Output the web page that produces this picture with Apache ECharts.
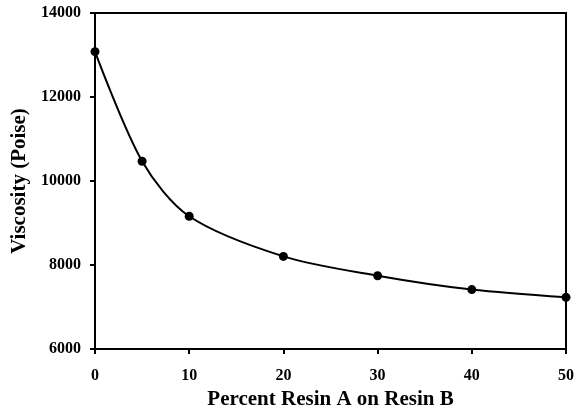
<!DOCTYPE html>
<html>
<head>
<meta charset="utf-8">
<script src="https://cdn.jsdelivr.net/npm/echarts@6/dist/echarts.min.js"></script>
<style>html,body{margin:0;padding:0;background:#fff}#c{width:576px;height:410px}</style>
</head>
<body>
<div id="c"></div>
<script>
var percentA = [0, 5, 10, 20, 30, 40, 50];
var viscosity = [13080, 10470, 9160, 8205, 7745, 7415, 7230];
var xTitle = 'Percent Resin A on Resin B';
var yTitle = 'Viscosity (Poise)';

var chart = echarts.init(document.getElementById('c'), null, {renderer: 'canvas'});
var font = '"Liberation Serif", "Times New Roman", serif';
chart.setOption({
  animation: false,
  backgroundColor: '#fff',
  grid: {left: 95, right: 10, top: 13, bottom: 61, show: true, borderColor: '#000', borderWidth: 2,
         containLabel: false, outerBoundsMode: 'none'},
  xAxis: {
    type: 'value', min: 0, max: 50, interval: 10,
    name: xTitle, nameLocation: 'middle', nameGap: 32,
    nameTextStyle: {fontFamily: font, fontWeight: 'bold', fontSize: 21, color: '#000'},
    axisLine: {lineStyle: {color: '#000', width: 2}},
    axisTick: {show: true, length: 5, lineStyle: {color: '#000', width: 2}},
    axisLabel: {fontFamily: font, fontWeight: 'bold', fontSize: 16, color: '#000', margin: 19,
                formatter: function (v) { return String(v); }},
    splitLine: {show: false}
  },
  yAxis: {
    type: 'value', min: 6000, max: 14000, interval: 2000,
    name: yTitle, nameLocation: 'middle', nameGap: 59,
    nameTextStyle: {fontFamily: font, fontWeight: 'bold', fontSize: 21, color: '#000'},
    axisLine: {show: true, lineStyle: {color: '#000', width: 2}},
    axisTick: {show: true, length: 5, lineStyle: {color: '#000', width: 2}},
    axisLabel: {fontFamily: font, fontWeight: 'bold', fontSize: 16, color: '#000', margin: 14,
                formatter: function (v) { return String(v); }},
    splitLine: {show: false}
  },
  series: [{
    type: 'line',
    data: percentA.map(function (x, i) { return [x, viscosity[i]]; }),
    smooth: 0.3,
    symbol: 'circle', symbolSize: 9,
    itemStyle: {color: '#000'},
    lineStyle: {color: '#000', width: 2}
  }]
});
</script>
</body>
</html>
